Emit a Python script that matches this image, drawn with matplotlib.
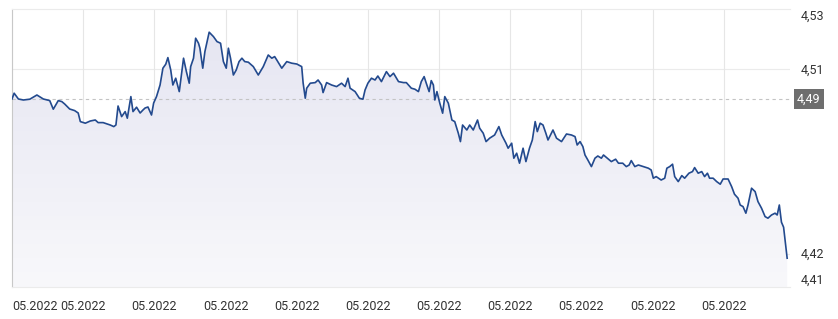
import numpy as np
import matplotlib.pyplot as plt
from matplotlib.patches import PathPatch
from matplotlib.colors import LinearSegmentedColormap

plt.rcParams['font.family'] = ['Roboto', 'DejaVu Sans']

# time position (one unit per x label interval) and rate
t = [0.00, 0.03, 0.09, 0.16, 0.25, 0.35, 0.44, 0.53, 0.58, 0.65, 0.70, 0.74, 0.81, 0.88,
     0.93, 0.96, 1.03, 1.10, 1.17, 1.21, 1.28, 1.38, 1.43, 1.46, 1.49, 1.54, 1.59, 1.62,
     1.67, 1.70, 1.75, 1.80, 1.84, 1.87, 1.91, 1.96, 1.99, 2.03, 2.08, 2.12, 2.16, 2.19,
     2.23, 2.26, 2.30, 2.35, 2.41, 2.45, 2.49, 2.51, 2.55, 2.58, 2.62, 2.64, 2.68, 2.71,
     2.77, 2.83, 2.88, 2.93, 2.97, 3.01, 3.04, 3.07, 3.11, 3.15, 3.19, 3.23, 3.27, 3.32,
     3.39, 3.46, 3.53, 3.60, 3.65, 3.69, 3.72, 3.79, 3.86, 3.93, 4.00, 4.07, 4.09, 4.12,
     4.14, 4.19, 4.26, 4.30, 4.35, 4.37, 4.42, 4.49, 4.56, 4.63, 4.68, 4.72, 4.75, 4.82,
     4.88, 4.93, 4.96, 5.00, 5.05, 5.10, 5.14, 5.19, 5.26, 5.31, 5.36, 5.43, 5.50, 5.54,
     5.61, 5.66, 5.71, 5.75, 5.79, 5.82, 5.86, 5.89, 5.92, 5.94, 5.97, 6.01, 6.05, 6.08,
     6.13, 6.18, 6.22, 6.27, 6.30, 6.33, 6.39, 6.43, 6.48, 6.54, 6.57, 6.62, 6.66, 6.71,
     6.78, 6.84, 6.88, 6.94, 6.97, 7.02, 7.05, 7.09, 7.13, 7.18, 7.22, 7.27, 7.31, 7.35,
     7.38, 7.42, 7.46, 7.50, 7.53, 7.60, 7.65, 7.72, 7.79, 7.86, 7.91, 7.94, 7.98, 8.02,
     8.05, 8.09, 8.14, 8.19, 8.23, 8.28, 8.31, 8.38, 8.42, 8.48, 8.52, 8.58, 8.63, 8.67,
     8.70, 8.75, 8.80, 8.87, 8.94, 8.98, 9.01, 9.05, 9.12, 9.17, 9.20, 9.24, 9.28, 9.31,
     9.36, 9.41, 9.45, 9.51, 9.56, 9.59, 9.64, 9.69, 9.73, 9.77, 9.80, 9.85, 9.90, 9.95,
     9.99, 10.06, 10.11, 10.15, 10.20, 10.23, 10.27, 10.31, 10.34, 10.39, 10.44, 10.48,
     10.53, 10.58, 10.62, 10.67, 10.72, 10.75, 10.78, 10.81, 10.84, 10.89]
rate = [4.4900, 4.4929, 4.4900, 4.4895, 4.4899, 4.4920, 4.4900, 4.4892, 4.4849, 4.4892,
        4.4887, 4.4875, 4.4850, 4.4842, 4.4830, 4.4787, 4.4779, 4.4790, 4.4795, 4.4782,
        4.4782, 4.4770, 4.4762, 4.4770, 4.4865, 4.4812, 4.4837, 4.4804, 4.4912, 4.4837,
        4.4859, 4.4830, 4.4845, 4.4855, 4.4860, 4.4820, 4.4880, 4.4912, 4.4970, 4.5054,
        4.5074, 4.5107, 4.5045, 4.4970, 4.5004, 4.4937, 4.5104, 4.5037, 4.4979, 4.5062,
        4.5104, 4.5204, 4.5179, 4.5154, 4.5054, 4.5137, 4.5234, 4.5212, 4.5187, 4.5179,
        4.5087, 4.5054, 4.5154, 4.5104, 4.5020, 4.5045, 4.5087, 4.5104, 4.5087, 4.5084,
        4.5062, 4.5020, 4.5062, 4.5120, 4.5104, 4.5112, 4.5095, 4.5054, 4.5087, 4.5079,
        4.5075, 4.5062, 4.4980, 4.4904, 4.4954, 4.4979, 4.4982, 4.4995, 4.4970, 4.4932,
        4.4982, 4.4970, 4.4962, 4.4979, 4.4962, 4.5004, 4.4954, 4.4937, 4.4904, 4.4899,
        4.4945, 4.4979, 4.5004, 4.4995, 4.5015, 4.4987, 4.5037, 4.5012, 4.5029, 4.4987,
        4.4982, 4.4982, 4.4954, 4.4949, 4.4937, 4.4987, 4.5012, 4.4979, 4.4937, 4.4992,
        4.4970, 4.4895, 4.4937, 4.4879, 4.4829, 4.4912, 4.4879, 4.4795, 4.4787, 4.4729,
        4.4687, 4.4770, 4.4745, 4.4770, 4.4745, 4.4795, 4.4754, 4.4729, 4.4687, 4.4704,
        4.4720, 4.4762, 4.4720, 4.4679, 4.4654, 4.4679, 4.4604, 4.4629, 4.4579, 4.4654,
        4.4587, 4.4654, 4.4695, 4.4787, 4.4737, 4.4779, 4.4770, 4.4729, 4.4695, 4.4745,
        4.4704, 4.4687, 4.4725, 4.4720, 4.4712, 4.4670, 4.4687, 4.4662, 4.4620, 4.4595,
        4.4562, 4.4604, 4.4615, 4.4604, 4.4620, 4.4599, 4.4587, 4.4599, 4.4579, 4.4579,
        4.4562, 4.4570, 4.4592, 4.4562, 4.4570, 4.4562, 4.4554, 4.4545, 4.4504, 4.4512,
        4.4495, 4.4504, 4.4554, 4.4562, 4.4574, 4.4512, 4.4487, 4.4517, 4.4504, 4.4529,
        4.4537, 4.4557, 4.4529, 4.4537, 4.4512, 4.4529, 4.4504, 4.4504, 4.4487, 4.4474,
        4.4500, 4.4500, 4.4462, 4.4424, 4.4404, 4.4370, 4.4362, 4.4329, 4.4370, 4.4454,
        4.4437, 4.4387, 4.4354, 4.4312, 4.4304, 4.4320, 4.4329, 4.4320, 4.4370, 4.4284,
        4.4259, 4.4104]

ref_rate = 4.49
ref_label = '4,49'
x_ticks = list(range(11))
x_labels = ['05.2022'] * 11
y_ticks = [4.532, 4.505, 4.413, 4.400]
y_labels = ['4,53', '4,51', '4,42', '4,41']
y_grid = [4.505, 4.4125]

fig = plt.figure(figsize=(8.38, 3.19), dpi=100)
ax = fig.add_axes([12 / 838, 1 - 287 / 319, 778 / 838, 278 / 319])
ax.set_xlim(0, 10.93)
ax.set_ylim(4.396, 4.535)

# gradient fill under the line: lavender near the top, almost white at the bottom
fill = ax.fill_between(t, rate, 4.396, color='none')
grad = np.linspace(0, 1, 256).reshape(-1, 1)
cmap = LinearSegmentedColormap.from_list('g', ['#f8f8fb', '#e6e6f2'])
img = ax.imshow(grad, extent=[0, 10.93, 4.396, max(rate)], aspect='auto',
                cmap=cmap, origin='lower', zorder=1)
patch = PathPatch(fill.get_paths()[0], transform=ax.transData,
                  facecolor='none', edgecolor='none')
ax.add_patch(patch)
img.set_clip_path(patch)

ax.plot(t, rate, color='#234a8e', lw=1.2, zorder=3)

ax.axhline(ref_rate, color='#c4c4c4', lw=0.8, ls=(0, (3, 3)), zorder=2)
for g in y_grid:
    ax.axhline(g, color='#ebebeb', lw=0.8, zorder=0)

ax.set_xticks(x_ticks)
ax.set_xticklabels(x_labels)
ax.get_xticklabels()[0].set_ha('left')
ax.grid(axis='x', color='#e6e6e6', lw=0.8, zorder=0)
ax.set_axisbelow(True)

ax.yaxis.tick_right()
ax.set_yticks(y_ticks)
ax.set_yticklabels(y_labels)
ax.tick_params(axis='both', length=0, labelsize=9, colors='#333333')
ax.tick_params(axis='y', pad=8)
ax.tick_params(axis='x', pad=9)

ax.text(1.0 + 7 / 778, ref_rate, ref_label, transform=ax.get_yaxis_transform(),
        ha='left', va='center', fontsize=9, color='white',
        bbox=dict(boxstyle='square,pad=0.25', fc='#6e6e6e', ec='none'))

ax.spines['right'].set_visible(False)
ax.spines['top'].set_color('#ebebeb')
ax.spines['bottom'].set_color('#ebebeb')
ax.spines['left'].set_color('#c8c8c8')
for s in ax.spines.values():
    s.set_linewidth(0.8)

fig.savefig('out.png', dpi=100)
